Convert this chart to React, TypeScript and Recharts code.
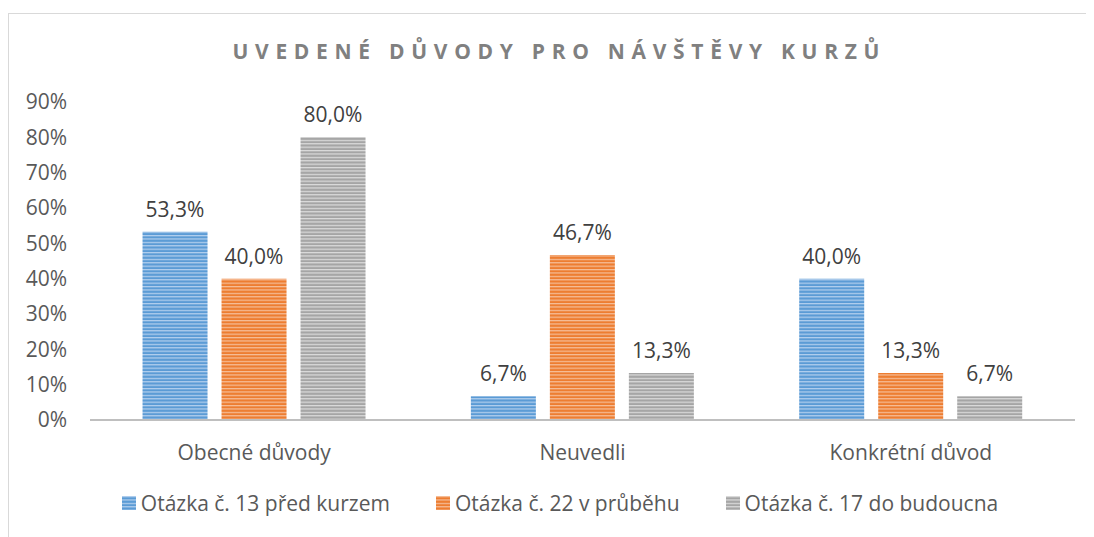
import React from "react";
import { BarChart, Bar, XAxis, YAxis, Legend, LabelList } from "recharts";

const categories = ["Obecné důvody", "Neuvedli", "Konkrétní důvod"];
const seriesNames = ["Otázka č. 13 před kurzem", "Otázka č. 22 v průběhu", "Otázka č. 17 do budoucna"];
const before = [53.3, 6.7, 40.0];
const during = [40.0, 46.7, 13.3];
const future = [80.0, 13.3, 6.7];
const yTicks = [0, 10, 20, 30, 40, 50, 60, 70, 80, 90];
const title = "UVEDENÉ DŮVODY PRO NÁVŠTĚVY KURZŮ";

const colors = ["#5b9bd5", "#ed7d31", "#a5a5a5"];
const lights = ["#b4d0ee", "#f6bf9a", "#dcdcdc"];
const keys = ["s0", "s1", "s2"];

const data = categories.map((c, i) => ({ name: c, s0: before[i], s1: during[i], s2: future[i] }));

const FONT = "'Open Sans', Lato, sans-serif";
const FS = 21;

const fmt = (v: number) => v.toFixed(1).replace(".", ",") + "%";

const LegendContent = () => (
  <div
    style={{
      display: "flex",
      justifyContent: "center",
      paddingLeft: 14,
      fontFamily: FONT,
      fontSize: FS,
      color: "#595959",
    }}
  >
    {seriesNames.map((n, i) => (
      <div key={n} style={{ display: "flex", alignItems: "center", margin: "0 23px" }}>
        <svg width={14} height={14} style={{ marginRight: 5 }}>
          <rect x={0} y={0} width={14} height={14} fill={`url(#pat${i})`} />
        </svg>
        <span>{n}</span>
      </div>
    ))}
  </div>
);

export default function App() {
  return (
    <div
      style={{
        position: "relative",
        marginTop: 5,
        width: 1090,
        height: 530,
        borderTop: "1px solid #d9d9d9",
        borderLeft: "1px solid #d9d9d9",
        borderRight: "1px solid #d9d9d9",
        boxSizing: "border-box",
        background: "#fff",
      }}
    >
      <div
        style={{
          position: "absolute",
          left: 0,
          width: 1094,
          top: 23,
          textAlign: "center",
          fontFamily: FONT,
          fontWeight: 700,
          fontSize: 21,
          letterSpacing: 6.7,
          paddingLeft: 6.7,
          boxSizing: "border-box",
          color: "#808080",
        }}
      >
        {title}
      </div>
      <BarChart
        width={1088}
        height={528}
        data={data}
        margin={{ top: 88, right: 22, left: 0, bottom: 0 }}
        barGap={14}
        barCategoryGap="16%"
      >
        <defs>
          {colors.map((c, i) => (
            <pattern key={i} id={`pat${i}`} patternUnits="userSpaceOnUse" width={6} height={3.4}>
              <rect x={0} y={0} width={6} height={3.4} fill={c} />
              <rect x={0} y={0} width={6} height={1.2} fill={lights[i]} />
            </pattern>
          ))}
        </defs>
        <XAxis
          dataKey="name"
          height={122}
          axisLine={{ stroke: "#bfbfbf", strokeWidth: 2 }}
          tickLine={false}
          tickMargin={19}
          tick={{ fill: "#595959", fontSize: FS, fontFamily: FONT }}
        />
        <YAxis
          width={81}
          domain={[0, 90]}
          ticks={yTicks}
          axisLine={false}
          tickLine={false}
          tickMargin={17}
          tickFormatter={(v: number) => `${v}%`}
          tick={{ fill: "#595959", fontSize: FS, fontFamily: FONT }}
          interval={0}
        />
        <Legend
          layout="horizontal"
          verticalAlign="middle"
          align="center"
          wrapperStyle={{ top: 475, left: 0, width: 1088 }}
          content={<LegendContent />}
        />
        {keys.map((k, i) => (
          <Bar key={k} dataKey={k} name={seriesNames[i]} fill={`url(#pat${i})`} isAnimationActive={false}>
            <LabelList
              dataKey={k}
              position="top"
              offset={15}
              formatter={(v: number) => fmt(v)}
              style={{ fill: "#404040", fontSize: FS, fontFamily: FONT }}
            />
          </Bar>
        ))}
      </BarChart>
    </div>
  );
}
